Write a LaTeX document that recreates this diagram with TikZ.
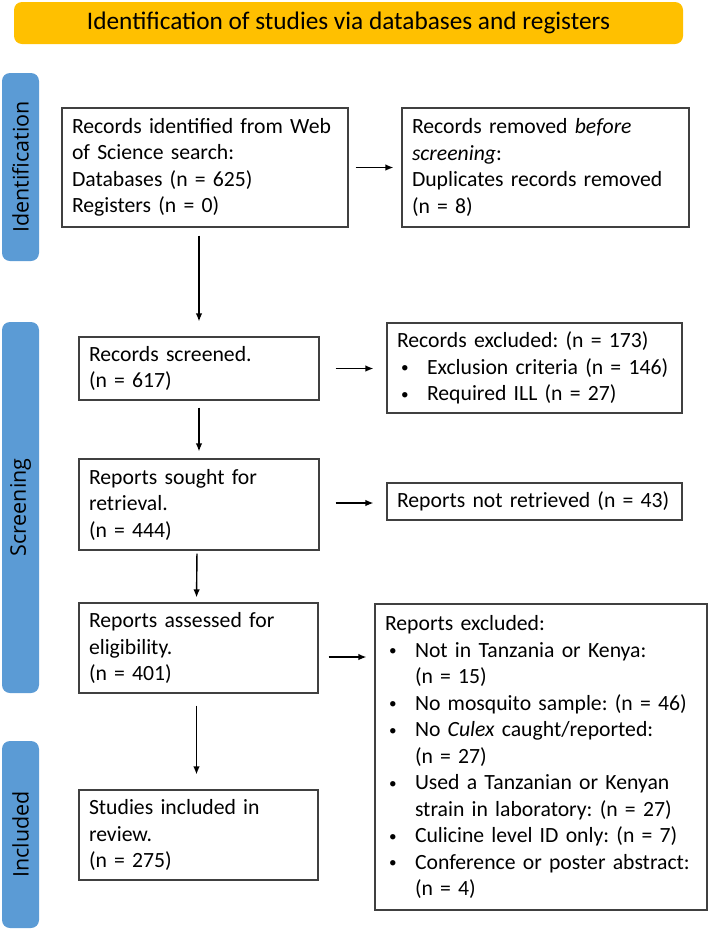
\documentclass[tikz,border=0pt]{standalone}
\usepackage{fontspec}
\setmainfont{Carlito}
\newfontfamily\sidefont{Open Sans}
\usetikzlibrary{arrows.meta}
\definecolor{titleyellow}{HTML}{FFC000}
\definecolor{sideblue}{HTML}{5B9BD5}
\definecolor{boxline}{HTML}{404040}
\newcommand{\bul}{\makebox[30pt][l]{\hspace{4pt}\raisebox{1.5pt}{\scalebox{0.7}{\textbullet}}}}
\newcommand{\bulsp}{\hspace*{30pt}}
\frenchspacing
\begin{document}
\begin{tikzpicture}[x=1pt,y=1pt,
  box/.style={draw=boxline, line width=1.1pt, inner xsep=10pt, inner ysep=0pt,
    align=left, font=\fontsize{21.7}{26.5}\selectfont},
  sidebar/.style={fill=sideblue, rounded corners=8pt, rotate=90, minimum height=37pt,
    inner sep=0pt, font=\sidefont\fontsize{21.5}{26}\selectfont},
  arr/.style={line width=1.4pt, -{Latex[length=8pt,width=6.5pt]}}]
\useasboundingbox (0,0) rectangle (709,-930);

\node[fill=titleyellow, rounded corners=8pt, minimum width=669pt, minimum height=42pt,
  inner sep=0pt, font=\fontsize{25.3}{29}\selectfont] (title) at (348.5,-23)
  {Identification of studies via databases and registers};

\node[sidebar, minimum width=188pt] (sid) at (20.5,-167) {Identification};
\node[sidebar, minimum width=371pt] (ssc) at (20.5,-507.5) {Screening};
\node[sidebar, minimum width=187pt] (sin) at (20.5,-834.5) {Included};

\node[box, text width=266pt, minimum height=119pt] (A) at (205,-167.5)
  {Records identified from Web\\of Science search:\\Databases (n = 625)\\Registers (n = 0)};
\node[box, text width=267pt, minimum height=119pt] (B) at (545.5,-167.5)
  {Records removed \textit{before}\\\textit{screening}:\\Duplicates records removed\\(n = 8)};
\node[box, text width=220pt, minimum height=63pt] (C) at (199,-368.5)
  {Records screened.\\(n = 617)};
\node[box, text width=275pt, minimum height=90pt] (D) at (534.5,-368)
  {Records excluded: (n = 173)\\\bul Exclusion criteria (n = 146)\\\bul Required ILL (n = 27)};
\node[box, text width=220pt, minimum height=91pt] (E) at (199,-504.5)
  {Reports sought for\\retrieval.\\(n = 444)};
\node[box, text width=275pt, minimum height=37pt] (F) at (534.5,-501.5)
  {\mbox{Reports not retrieved (n = 43)}};
\node[box, text width=219pt, minimum height=90pt] (G) at (198.5,-648)
  {Reports assessed for\\eligibility.\\(n = 401)};
\node[box, text width=219pt, minimum height=90pt] (H) at (198.5,-835)
  {Studies included in\\review.\\(n = 275)};
\node[box, text width=312pt, minimum height=306pt] (I) at (541,-757)
  {Reports excluded:\\
   \bul Not in Tanzania or Kenya:\\\bulsp(n = 15)\\
   \bul No mosquito sample: (n = 46)\\
   \bul No \textit{Culex} caught/reported:\\\bulsp(n = 27)\\
   \bul Used a Tanzanian or Kenyan\\\bulsp strain in laboratory: (n = 27)\\
   \bul Culicine level ID only: (n = 7)\\
   \bul Conference or poster abstract:\\\bulsp(n = 4)};

% arrows
\draw[arr, shorten <=7pt, shorten >=8pt] (A.east) -- (A.east -| B.west);
\draw[arr, shorten <=8pt, shorten >=15pt] (A.south -| C.north) -- (C.north);
\draw[arr, shorten <=16pt, shorten >=13pt] (C.east) -- (C.east -| D.west);
\draw[arr, shorten <=7pt, shorten >=7pt] (C.south) -- (E.north);
\coordinate (e1) at ([yshift=1.5pt]E.east);
\draw[arr, shorten <=16pt, shorten >=13pt] (e1) -- (e1 -| F.west);
\draw[arr, shorten <=3pt, shorten >=5pt] ([xshift=-2pt]E.south) -- ([xshift=-2pt]G.north);
\coordinate (g1) at ([yshift=-9pt]G.east);
\draw[arr, shorten <=10pt, shorten >=8pt] (g1) -- (g1 -| I.west);
\draw[arr, shorten <=12pt, shorten >=15pt] ([xshift=-2pt]G.south) -- ([xshift=-2pt]H.north);
\end{tikzpicture}
\end{document}
